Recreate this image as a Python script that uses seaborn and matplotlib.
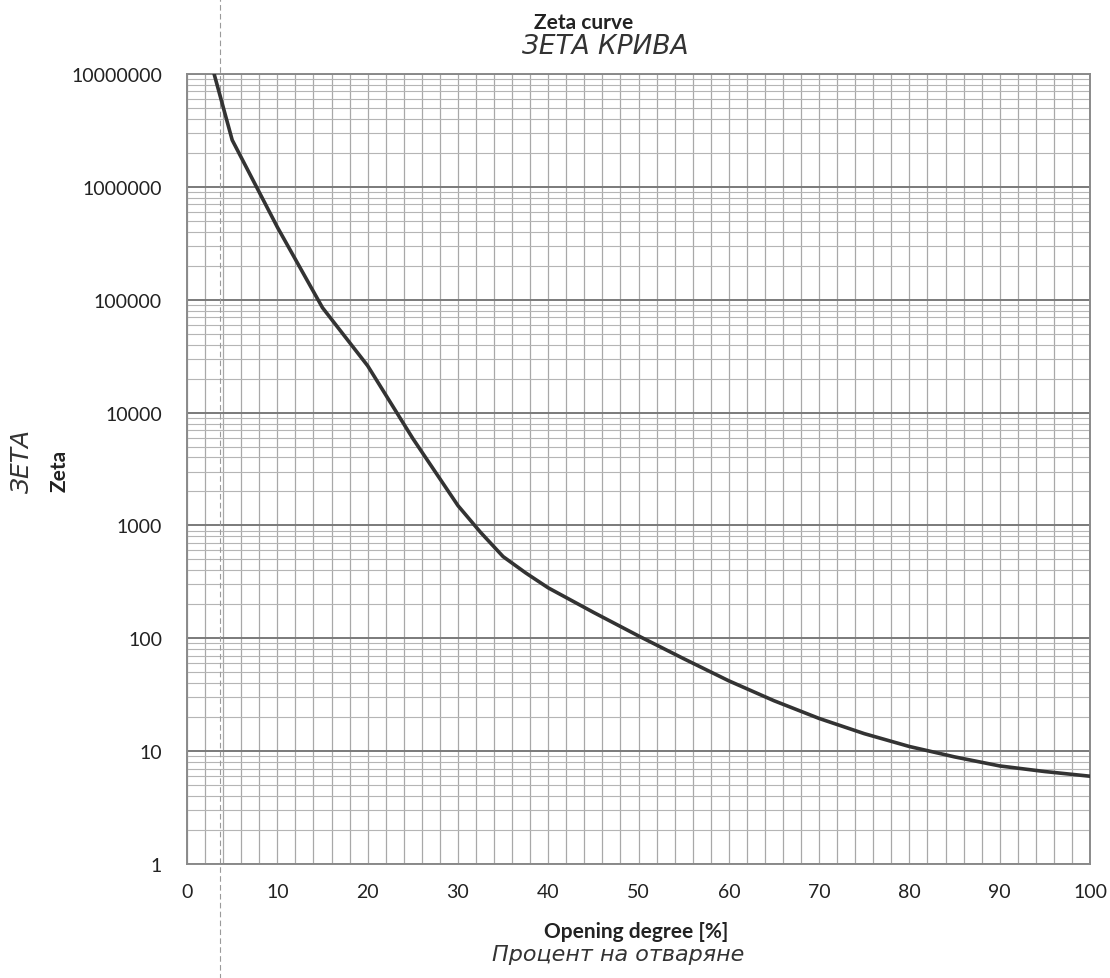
import matplotlib
matplotlib.use("Agg")
import matplotlib.pyplot as plt
import matplotlib.ticker as mticker
import seaborn as sns
import pandas as pd

# values
opening = [3, 5, 10, 15, 20, 25, 30, 32.5, 35, 37.5, 40, 45, 50,
           55, 60, 65, 70, 75, 80, 85, 90, 95, 100]
zeta = [1.0e7, 2.6e6, 4.4e5, 8.5e4, 2.6e4, 5.9e3, 1.5e3, 8.7e2, 5.3e2, 3.8e2, 2.8e2, 1.7e2, 1.05e2,
        66, 42, 28, 19.5, 14.3, 11, 8.9, 7.4, 6.6, 6.0]
x_ticks = list(range(0, 101, 10))

title = "Zeta curve"
title_bg = "ЗЕТА КРИВА"
xlabel = "Opening degree [%]"
xlabel_bg = "Процент на отваряне"
ylabel = "Zeta"
ylabel_bg = "ЗЕТА"

sns.set_style("white")
plt.rcParams["font.family"] = ["Lato", "DejaVu Sans"]

df = pd.DataFrame({"opening": opening, "zeta": zeta})

fig = plt.figure(figsize=(11.1, 9.79), dpi=100)
ax = fig.add_axes([0.1685, 0.1164, 0.8135, 0.807])

sns.lineplot(data=df, x="opening", y="zeta", ax=ax, color="#333333", lw=2.6, zorder=5)

ax.set_yscale("log")
ax.set_xlim(0, 100)
ax.set_ylim(1, 1e7)
ax.set_xticks(x_ticks)
ax.xaxis.set_minor_locator(mticker.MultipleLocator(2))
ax.yaxis.set_major_locator(mticker.LogLocator(base=10, numticks=10))
ax.yaxis.set_minor_locator(mticker.LogLocator(base=10, subs=range(2, 10), numticks=100))
ax.yaxis.set_major_formatter(mticker.FuncFormatter(lambda v, p: f"{int(round(v))}"))
ax.yaxis.set_minor_formatter(mticker.NullFormatter())
ax.tick_params(which="both", length=0, labelsize=14, colors="#222222")
ax.tick_params(axis="y", pad=18)
ax.tick_params(axis="x", pad=14)

ax.grid(which="major", axis="y", color="#7a7a7a", lw=1.4)
ax.grid(which="minor", axis="y", color="#b5b5b5", lw=0.8)
ax.grid(which="both", axis="x", color="#a8a8a8", lw=0.9)
for s in ax.spines.values():
    s.set_color("#8a8a8a")
    s.set_linewidth(1.4)

# fold line of the scanned sheet
ax.axvline(3.65, ymin=-0.145, ymax=1.095, clip_on=False, color="#9a9a9a", lw=0.8,
           ls=(0, (5, 3)), zorder=1)

ax.set_xlabel("")
ax.set_ylabel("")
fig.text(0.526, 0.987, title, ha="center", va="top", fontsize=15, fontweight="bold", color="#222222")
fig.text(0.545, 0.952, title_bg, ha="center", va="center", fontsize=19, style="italic",
         color="#333333", family=["DejaVu Sans"])
fig.text(0.573, 0.048, xlabel, ha="center", va="center", fontsize=15, fontweight="bold", color="#222222")
fig.text(0.557, 0.025, xlabel_bg, ha="center", va="center", fontsize=16, style="italic",
         color="#333333", family=["DejaVu Sans"])
fig.text(0.054, 0.519, ylabel, ha="center", va="center", rotation=90, fontsize=15,
         fontweight="bold", color="#222222")
fig.text(0.02, 0.529, ylabel_bg, ha="center", va="center", rotation=90, fontsize=18,
         style="italic", color="#333333", family=["DejaVu Sans"])

fig.savefig("out.png", dpi=100)
